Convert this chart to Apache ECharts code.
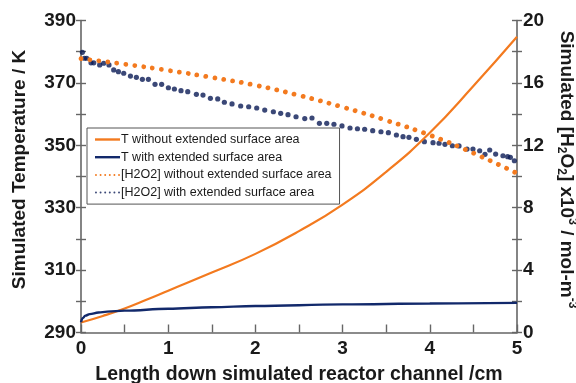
<!DOCTYPE html>
<html><head><meta charset="utf-8">
<script src="https://cdn.jsdelivr.net/npm/echarts@6/dist/echarts.min.js"></script>
<style>html,body{margin:0;padding:0;background:#fff}#c{width:576px;height:383px}</style>
</head><body><div id="c"></div>
<script>
// ---- data ----
const seriesNames = [
  'T without extended surface area',
  'T with extended surface area',
  '[H2O2] without extended surface area',
  '[H2O2] with extended surface area'
];
// Temperature without extended surface area (K)
const tWithoutX = [0, 0.25, 0.5, 0.75, 1, 1.5, 2, 2.5, 3, 3.5, 4, 4.5, 5];
const tWithoutY = [293.2, 295.3, 297.7, 300.5, 303.4, 309.2, 315.2, 322.5, 331, 341.5, 354.0, 369, 384.8];
// Temperature with extended surface area (K)
const tWithX = [0, 0.02, 0.05, 0.1, 0.2, 0.3, 0.5, 1, 1.5, 2, 3, 4, 5];
const tWithY = [293.3, 294.6, 295.4, 295.9, 296.4, 296.7, 297.0, 297.6, 298.1, 298.5, 299.0, 299.3, 299.5];
// [H2O2] without extended surface area (x10^3 mol m^-3)
const hWithoutX = [0, 0.5, 1, 1.5, 2, 2.5, 3, 3.5, 4, 4.5, 5];
const hWithoutY = [17.55, 17.2, 16.8, 16.35, 15.85, 15.2, 14.45, 13.6, 12.65, 11.5, 10.2];
// [H2O2] with extended surface area (x10^3 mol m^-3)
const hWithX = [0.016,0.039,0.065,0.115,0.146,0.214,0.26,0.321,0.375,0.429,0.49,0.567,0.635,0.704,0.773,0.849,0.925,1.002,1.071,1.147,1.224,1.323,1.399,1.484,1.568,1.644,1.732,1.831,1.923,2.015,2.107,2.206,2.29,2.374,2.466,2.566,2.649,2.734,2.818,2.901,2.993,3.085,3.17,3.253,3.345,3.44,3.525,3.617,3.693,3.761,3.846,3.938,4.037,4.106,4.174,4.259,4.335,4.427,4.495,4.572,4.633,4.687,4.755,4.839,4.893,4.924,4.97];
const hWithY = [17.96,17.58,17.58,17.29,17.29,17.15,17.26,17.15,16.83,16.72,16.62,16.44,16.36,16.23,16.23,15.91,15.91,15.69,15.61,15.5,15.44,15.27,15.22,15.01,14.97,14.76,14.65,14.52,14.47,14.39,14.26,14.15,14.05,13.96,13.83,13.71,13.75,13.41,13.41,13.35,13.24,13.11,13.06,13.03,12.94,12.87,12.81,12.66,12.55,12.51,12.38,12.23,12.17,12.13,12.06,11.97,11.96,11.76,11.76,11.65,11.42,11.7,11.44,11.33,11.27,11.23,11.01];
const xTicks = [0, 1, 2, 3, 4, 5];
const leftTicks = [290, 310, 330, 350, 370, 390];
const rightTicks = [0, 4, 8, 12, 16, 20];

const zip = (xs, ys) => xs.map((x, i) => [x, ys[i]]);
const ORANGE = '#F37A1F', NAVY = '#12296B', DOTNAVY = '#0A1A55';
const AXIS = '#666';
const FONT = 'Liberation Sans, Arial, sans-serif';

const lineIcon = 'path://M0,0L25,0L25,2.4L0,2.4Z';
const dotIcon = 'path://' + [0, 4.7, 9.4, 14.1, 18.8, 23.5].map(c =>
  `M${c},1a1,1 0 1,0 2,0a1,1 0 1,0 -2,0Z`).join('');

const chart = echarts.init(document.getElementById('c'));
const labelStyle = {color: '#1a1a1a', fontSize: 19, fontWeight: 'bold', fontFamily: FONT};
chart.setOption({
  animation: false,
  backgroundColor: '#fff',
  grid: {left: 81, right: 59, top: 20.5, bottom: 50.5, containLabel: false, outerBoundsMode: 'none'},
  legend: {
    orient: 'vertical', left: 87, top: 128,
    padding: [5, 8, 5, 8], itemGap: 4.7, itemWidth: 25, itemHeight: 12.5,
    borderColor: '#555', borderWidth: 1, backgroundColor: '#fff',
    itemStyle: {borderWidth: 0},
    textStyle: {fontSize: 12.5, color: '#1a1a1a', fontFamily: FONT, padding: [0, 0, 0, -4]},
    data: [
      {name: seriesNames[0], icon: lineIcon},
      {name: seriesNames[1], icon: lineIcon},
      {name: seriesNames[2], icon: dotIcon},
      {name: seriesNames[3], icon: dotIcon}
    ]
  },
  xAxis: {
    type: 'value', min: 0, max: 5, interval: 0.5,
    name: 'Length down simulated reactor channel /cm', nameLocation: 'middle', nameGap: 32,
    nameTextStyle: {fontSize: 19.5, fontWeight: 'bold', color: '#1a1a1a', fontFamily: FONT},
    axisLine: {lineStyle: {color: AXIS, width: 1.6}},
    axisTick: {inside: true, length: 8, lineStyle: {color: AXIS, width: 1.4}},
    axisLabel: Object.assign({}, labelStyle, {margin: 7,
      formatter: v => xTicks.includes(v) ? String(v) : ''}),
    splitLine: {show: false}
  },
  yAxis: [
    {
      type: 'value', position: 'left', min: 290, max: 390, interval: 10,
      name: 'Simulated Temperature / K', nameLocation: 'middle', nameGap: 52,
      nameTextStyle: {fontSize: 19, fontWeight: 'bold', color: '#1a1a1a', fontFamily: FONT, padding: [0, 0, 0, 14]},
      axisLine: {show: true, lineStyle: {color: AXIS, width: 1.6}},
      axisTick: {show: true, length: 5, lineStyle: {color: AXIS, width: 1.4}},
      axisLabel: Object.assign({}, labelStyle, {margin: 5,
        formatter: v => leftTicks.includes(v) ? String(v) : ''}),
      splitLine: {show: false}
    },
    {
      type: 'value', position: 'right', min: 0, max: 20, interval: 2,
      name: '{n|Simulated [H}{sub|2}{n|O}{sub|2}{n|] x10}{sup|3}{n| / mol-m}{sup|-3}',
      nameLocation: 'middle', nameGap: 29, nameRotate: -90,
      nameTextStyle: {
        fontFamily: FONT, color: '#1a1a1a', fontWeight: 'bold', fontSize: 19,
        padding: [0, 14, 0, 0],
        rich: {
          n: {fontSize: 19, fontWeight: 'bold', fontFamily: FONT, color: '#1a1a1a', lineHeight: 23, verticalAlign: 'middle'},
          sub: {fontSize: 12, fontWeight: 'bold', fontFamily: FONT, color: '#1a1a1a', verticalAlign: 'bottom', lineHeight: 23},
          sup: {fontSize: 12, fontWeight: 'bold', fontFamily: FONT, color: '#1a1a1a', verticalAlign: 'top', lineHeight: 23}
        }
      },
      axisLine: {show: true, lineStyle: {color: AXIS, width: 1.6}},
      axisTick: {show: true, length: 5, lineStyle: {color: AXIS, width: 1.4}},
      axisLabel: Object.assign({}, labelStyle, {margin: 6,
        formatter: v => rightTicks.includes(v) ? String(v) : ''}),
      splitLine: {show: false}
    },
    {
      type: 'value', position: 'left', min: 290, max: 390, interval: 10,
      axisLine: {show: false}, axisLabel: {show: false}, splitLine: {show: false},
      axisTick: {show: true, inside: true, length: 5, lineStyle: {color: AXIS, width: 1.4}}
    },
    {
      type: 'value', position: 'right', min: 0, max: 20, interval: 2,
      axisLine: {show: false}, axisLabel: {show: false}, splitLine: {show: false},
      axisTick: {show: true, inside: true, length: 5, lineStyle: {color: AXIS, width: 1.4}}
    }
  ],
  series: [
    {
      name: seriesNames[2], type: 'line', yAxisIndex: 1, smooth: true, symbol: 'none',
      color: ORANGE, data: zip(hWithoutX, hWithoutY),
      lineStyle: {color: ORANGE, width: 4.8, type: [0.01, 9], cap: 'round'}
    },
    {
      name: seriesNames[3], type: 'scatter', yAxisIndex: 1, symbol: 'circle', symbolSize: 5.2,
      color: DOTNAVY, itemStyle: {color: DOTNAVY}, data: zip(hWithX, hWithY)
    },
    {
      name: seriesNames[0], type: 'line', yAxisIndex: 0, smooth: true, symbol: 'none',
      color: ORANGE, data: zip(tWithoutX, tWithoutY),
      lineStyle: {color: ORANGE, width: 2.2}
    },
    {
      name: seriesNames[1], type: 'line', yAxisIndex: 0, smooth: 0.4, smoothMonotone: 'x', symbol: 'none',
      color: NAVY, data: zip(tWithX, tWithY),
      lineStyle: {color: NAVY, width: 2.4}
    }
  ]
});
</script></body></html>
